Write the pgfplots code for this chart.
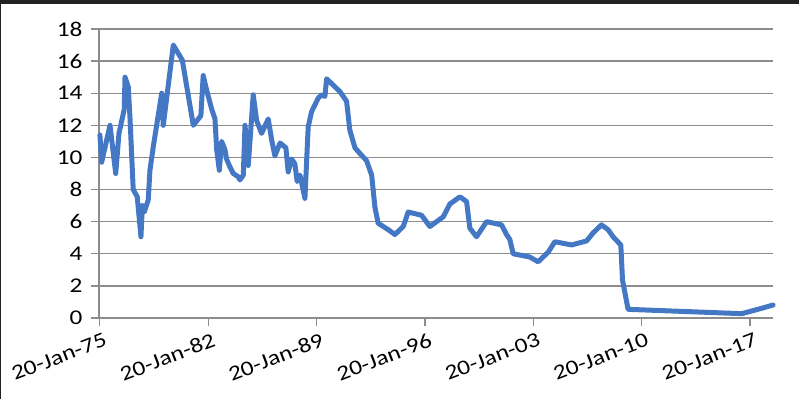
\documentclass[border=0pt]{standalone}
\usepackage{pgfplots}
\pgfplotsset{compat=1.18}
\usepackage{fontspec}
\setmainfont{Carlito}
\newfontfamily\tickfont[FakeStretch=1.2]{Carlito}
\definecolor{lineblue}{RGB}{68,120,196}
\definecolor{gridgray}{RGB}{140,140,140}
\definecolor{frame}{RGB}{34,34,34}
\begin{document}
\begin{tikzpicture}[x=1pt,y=1pt]
\path[use as bounding box] (0,0) rectangle (799,399);
\fill[frame] (0,395) rectangle (799,399);
\fill[frame] (0,0) rectangle (1.4,399);
\begin{axis}[
  at={(99pt,81pt)}, anchor=south west,
  scale only axis, width=674pt, height=289pt,
  xmin=1975.0, xmax=2018.53,
  ymin=0, ymax=18,
  ytick={0,2,...,18},
  xtick={1975.05,1982.05,1989.05,1996.05,2003.05,2010.05,2017.05},
  xticklabels={20-Jan-75,20-Jan-82,20-Jan-89,20-Jan-96,20-Jan-03,20-Jan-10,20-Jan-17},
  axis x line*=bottom, axis y line*=left,
  axis line style={gridgray, line width=1.3pt, -},
  ymajorgrids, grid style={gridgray, line width=1.3pt},
  tick style={gridgray, line width=1.3pt},
  tick align=outside, major tick length=8pt,
  every tick label/.append style={font=\tickfont\fontsize{21}{24}\selectfont, text=black},
  xticklabel style={rotate=21, anchor=north east, inner sep=1pt, yshift=-6pt, xshift=2pt},
  yticklabel style={anchor=east, xshift=-5pt},
  /pgf/number format/assume math mode=true,
  clip=false,
]
\addplot[lineblue, line width=5pt, line join=round, line cap=round] coordinates {
(1975.06,11.4) (1975.17,9.7) (1975.71,12.0) (1976.08,9.0) (1976.29,11.5)
(1976.63,13.0) (1976.68,15.0) (1976.89,14.4) (1977.00,12.5) (1977.21,8.0)
(1977.47,7.55) (1977.71,5.06) (1977.80,7.0) (1977.92,6.6) (1978.18,7.35)
(1978.29,9.2) (1978.51,10.7) (1979.05,14.0) (1979.15,12.0) (1979.80,17.0)
(1980.38,16.06) (1981.09,12.0) (1981.58,12.6) (1981.73,15.1) (1981.95,14.2)
(1982.28,13.0) (1982.49,12.4) (1982.60,10.5) (1982.77,9.2) (1982.92,11.0)
(1983.13,10.5) (1983.24,9.9) (1983.46,9.4) (1983.67,9.0) (1983.99,8.8)
(1984.10,8.6) (1984.32,8.9) (1984.43,12.0) (1984.64,9.5) (1984.96,13.9)
(1985.18,12.3) (1985.50,11.5) (1985.93,12.4) (1986.15,11.1) (1986.36,10.1)
(1986.69,10.9) (1987.07,10.6) (1987.22,9.1) (1987.44,9.9) (1987.65,9.6)
(1987.80,8.5) (1987.98,8.9) (1988.30,7.45) (1988.51,11.9) (1988.73,12.85)
(1989.16,13.7) (1989.38,13.9) (1989.59,13.8) (1989.70,14.9) (1990.56,14.1)
(1990.99,13.5) (1991.20,11.7) (1991.53,10.6) (1991.85,10.25) (1992.28,9.8)
(1992.61,8.9) (1992.82,6.9) (1993.03,5.9) (1993.68,5.5) (1994.11,5.2)
(1994.65,5.7) (1994.97,6.6) (1995.83,6.4) (1996.37,5.7) (1997.23,6.3)
(1997.66,7.1) (1998.31,7.55) (1998.74,7.25) (1998.95,5.6) (1999.38,5.06)
(2000.03,6.0) (2001.00,5.8) (2001.32,5.2) (2001.53,4.9) (2001.75,4.0)
(2002.82,3.8) (2003.36,3.5) (2004.01,4.1) (2004.44,4.75) (2005.52,4.55)
(2006.49,4.8) (2006.91,5.3) (2007.45,5.8) (2007.88,5.5) (2008.20,5.06)
(2008.70,4.55) (2008.81,2.37) (2009.17,0.54) (2016.51,0.27) (2017.78,0.6)
(2018.53,0.81)
};
\end{axis}
\end{tikzpicture}
\end{document}
